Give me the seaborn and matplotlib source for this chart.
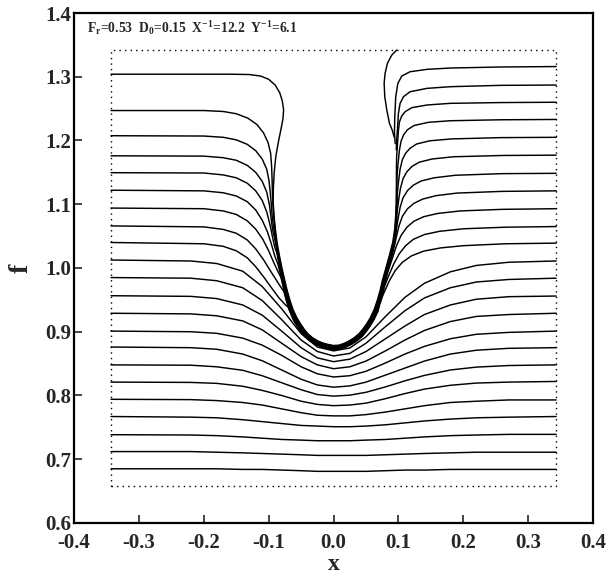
import numpy as np
import matplotlib
matplotlib.use("Agg")
import matplotlib.pyplot as plt
import seaborn as sns
from matplotlib.patches import Rectangle

# ---------------------------------------------------------------------------
# values
# ---------------------------------------------------------------------------
x_ticks = [-0.4, -0.3, -0.2, -0.1, 0.0, 0.1, 0.2, 0.3, 0.4]
y_ticks = [0.6, 0.7, 0.8, 0.9, 1.0, 1.1, 1.2, 1.3, 1.4]
param_text = r"F$_\mathrm{r}$=0.53  D$_0$=0.15  X$^{-1}$=12.2  Y$^{-1}$=6.1"

# dotted computational window
frame_x = [-0.343, 0.343]
frame_y = [0.658, 1.342]

# streamlines that pass underneath the body, sampled at common x positions
lower_x = [-0.343, -0.22, -0.18, -0.14, -0.11, -0.08, -0.05, -0.025, 0.0,
           0.025, 0.05, 0.08, 0.11, 0.14, 0.18, 0.22, 0.27, 0.343]
lower_y = [
    [0.685, 0.685, 0.685, 0.684, 0.684, 0.683, 0.682, 0.681, 0.681, 0.681, 0.681, 0.682, 0.683, 0.683, 0.684, 0.684, 0.684, 0.684],
    [0.712, 0.712, 0.711, 0.710, 0.709, 0.708, 0.707, 0.706, 0.706, 0.706, 0.706, 0.707, 0.708, 0.709, 0.710, 0.711, 0.711, 0.711],
    [0.7385, 0.738, 0.737, 0.735, 0.733, 0.731, 0.730, 0.729, 0.729, 0.729, 0.730, 0.731, 0.733, 0.735, 0.737, 0.738, 0.739, 0.739],
    [0.767, 0.766, 0.765, 0.762, 0.759, 0.756, 0.753, 0.752, 0.751, 0.751, 0.752, 0.754, 0.757, 0.760, 0.763, 0.765, 0.766, 0.767],
    [0.794, 0.7935, 0.792, 0.789, 0.785, 0.779, 0.773, 0.769, 0.768, 0.768, 0.770, 0.774, 0.779, 0.784, 0.789, 0.791, 0.793, 0.793],
    [0.821, 0.8205, 0.819, 0.8145, 0.808, 0.800, 0.791, 0.786, 0.784, 0.785, 0.788, 0.795, 0.803, 0.810, 0.816, 0.8195, 0.821, 0.822],
    [0.848, 0.8475, 0.845, 0.8395, 0.831, 0.820, 0.809, 0.8015, 0.799, 0.8005, 0.805, 0.8135, 0.823, 0.8315, 0.840, 0.8445, 0.847, 0.848],
    [0.876, 0.875, 0.8725, 0.865, 0.8545, 0.840, 0.8255, 0.8165, 0.813, 0.815, 0.821, 0.832, 0.843, 0.854, 0.865, 0.871, 0.874, 0.875],
    [0.901, 0.900, 0.8975, 0.890, 0.879, 0.863, 0.845, 0.834, 0.829, 0.831, 0.838, 0.851, 0.865, 0.877, 0.889, 0.896, 0.899, 0.901],
    [0.929, 0.928, 0.925, 0.917, 0.903, 0.882, 0.861, 0.848, 0.842, 0.845, 0.854, 0.870, 0.887, 0.902, 0.916, 0.924, 0.927, 0.929],
    [0.9565, 0.9555, 0.952, 0.942, 0.926, 0.901, 0.875, 0.859, 0.853, 0.857, 0.869, 0.889, 0.909, 0.927, 0.942, 0.951, 0.955, 0.956],
    [0.985, 0.984, 0.980, 0.969, 0.949, 0.919, 0.887, 0.869, 0.862, 0.866, 0.882, 0.908, 0.933, 0.953, 0.969, 0.978, 0.982, 0.984],
    [1.0125, 1.011, 1.007, 0.995, 0.971, 0.936, 0.897, 0.876, 0.870, 0.8745, 0.892, 0.924, 0.954, 0.976, 0.994, 1.004, 1.009, 1.011],
]

# innermost streamline wrapping the U-shaped body (left top -> bottom -> right top)
wall_x = [-0.093, -0.093, -0.0925, -0.091, -0.089, -0.0865, -0.083, -0.079, -0.0745, -0.071,
          -0.0668, -0.062, -0.056, -0.050, -0.044, -0.039, -0.032, -0.024, -0.016, -0.008,
          0.0,
          0.008, 0.016, 0.024, 0.032, 0.039, 0.0435, 0.050, 0.056, 0.062, 0.067,
          0.0712, 0.0745, 0.080, 0.0855, 0.0905, 0.0935, 0.095, 0.0958, 0.0962, 0.0963, 0.0963]
wall_y = [1.16, 1.13, 1.10, 1.08, 1.06, 1.04, 1.02, 1.00, 0.98, 0.965,
          0.95, 0.935, 0.922, 0.912, 0.903, 0.897, 0.891, 0.886, 0.8827, 0.8805,
          0.879,
          0.8795, 0.8822, 0.8862, 0.8915, 0.8975, 0.903, 0.912, 0.922, 0.935, 0.95,
          0.965, 0.98, 1.00, 1.02, 1.04, 1.06, 1.08, 1.10, 1.13, 1.16, 1.19]

# streamlines squeezed against the body: distance from the wall,
# height where they reach it on the left and leave it on the right
cluster_offset = [0.0006, 0.0014, 0.0022, 0.003, 0.0038, 0.0046, 0.0054, 0.0062, 0.007]
cluster_join = [1.10, 1.08, 1.06, 1.04, 1.02, 1.00, 0.98, 0.96, 0.935]
cluster_leave = [1.17, 1.14, 1.11, 1.08, 1.05, 1.02, 0.99, 0.965, 0.94]

cluster_left = [
    [(-0.343, 1.304), (-0.16, 1.304), (-0.13, 1.3035), (-0.112, 1.301), (-0.1, 1.296), (-0.09, 1.287),
     (-0.083, 1.275), (-0.079, 1.262), (-0.077, 1.248), (-0.078, 1.234), (-0.081, 1.218), (-0.085, 1.198),
     (-0.089, 1.175), (-0.0915, 1.15), (-0.0928, 1.125), (-0.0932, 1.105)],
    [(-0.343, 1.247), (-0.2, 1.247), (-0.17, 1.2455), (-0.15, 1.242), (-0.132, 1.235), (-0.118, 1.225),
     (-0.108, 1.212), (-0.101, 1.197), (-0.097, 1.18), (-0.0955, 1.16), (-0.0948, 1.14), (-0.0943, 1.12),
     (-0.0935, 1.10), (-0.0925, 1.085)],
    [(-0.343, 1.2075), (-0.2, 1.207), (-0.17, 1.205), (-0.15, 1.201), (-0.133, 1.194), (-0.12, 1.184),
     (-0.11, 1.171), (-0.103, 1.155), (-0.0995, 1.137), (-0.0975, 1.118), (-0.096, 1.10), (-0.0945, 1.08),
     (-0.0925, 1.065)],
    [(-0.343, 1.176), (-0.2, 1.1755), (-0.17, 1.173), (-0.15, 1.169), (-0.133, 1.161), (-0.12, 1.15),
     (-0.11, 1.136), (-0.103, 1.119), (-0.099, 1.10), (-0.0965, 1.08), (-0.094, 1.06), (-0.0905, 1.045)],
    [(-0.343, 1.1495), (-0.2, 1.149), (-0.17, 1.146), (-0.15, 1.1415), (-0.133, 1.133), (-0.12, 1.121),
     (-0.11, 1.106), (-0.103, 1.088), (-0.098, 1.068), (-0.094, 1.048), (-0.0905, 1.032), (-0.0875, 1.024)],
    [(-0.343, 1.122), (-0.2, 1.121), (-0.17, 1.118), (-0.15, 1.113), (-0.133, 1.104), (-0.12, 1.091),
     (-0.11, 1.075), (-0.102, 1.057), (-0.096, 1.038), (-0.091, 1.02), (-0.0855, 1.005)],
    [(-0.343, 1.094), (-0.2, 1.093), (-0.17, 1.0895), (-0.15, 1.084), (-0.133, 1.074), (-0.12, 1.061),
     (-0.109, 1.045), (-0.1, 1.027), (-0.092, 1.008), (-0.085, 0.993), (-0.081, 0.985)],
    [(-0.343, 1.066), (-0.2, 1.0645), (-0.17, 1.0605), (-0.15, 1.0545), (-0.133, 1.044), (-0.12, 1.03),
     (-0.108, 1.013), (-0.097, 0.995), (-0.087, 0.979), (-0.08, 0.968), (-0.0765, 0.963)],
    [(-0.343, 1.040), (-0.2, 1.038), (-0.17, 1.034), (-0.15, 1.027), (-0.133, 1.016), (-0.12, 1.002),
     (-0.107, 0.985), (-0.095, 0.968), (-0.084, 0.953), (-0.075, 0.943), (-0.0695, 0.938)],
]

cluster_right = [
    [(0.0972, 1.175), (0.0985, 1.195), (0.0998, 1.215), (0.1015, 1.229), (0.105, 1.2385), (0.1103, 1.2452),
     (0.1205, 1.2515), (0.144, 1.2557), (0.18, 1.2583), (0.257, 1.2595), (0.343, 1.260)],
    [(0.0978, 1.145), (0.0995, 1.165), (0.1015, 1.185), (0.104, 1.199), (0.108, 1.209), (0.114, 1.217),
     (0.124, 1.2235), (0.146, 1.2285), (0.18, 1.231), (0.257, 1.2325), (0.343, 1.233)],
    [(0.098, 1.115), (0.1, 1.135), (0.1025, 1.155), (0.106, 1.17), (0.111, 1.18), (0.118, 1.188),
     (0.128, 1.1945), (0.148, 1.1995), (0.182, 1.2025), (0.257, 1.2045), (0.343, 1.205)],
    [(0.0975, 1.085), (0.1, 1.105), (0.103, 1.125), (0.107, 1.14), (0.113, 1.151), (0.121, 1.1595),
     (0.132, 1.166), (0.152, 1.171), (0.185, 1.1745), (0.26, 1.1765), (0.343, 1.177)],
    [(0.096, 1.055), (0.099, 1.075), (0.1025, 1.095), (0.107, 1.11), (0.114, 1.1215), (0.123, 1.13),
     (0.135, 1.1365), (0.155, 1.1415), (0.188, 1.1455), (0.26, 1.148), (0.343, 1.1485)],
    [(0.0915, 1.025), (0.096, 1.045), (0.1005, 1.065), (0.106, 1.081), (0.114, 1.093), (0.124, 1.1015),
     (0.137, 1.108), (0.158, 1.1135), (0.19, 1.1175), (0.26, 1.1202), (0.343, 1.121)],
    [(0.084, 0.995), (0.0905, 1.015), (0.097, 1.035), (0.104, 1.051), (0.113, 1.064), (0.124, 1.0735),
     (0.139, 1.0805), (0.16, 1.0855), (0.195, 1.0895), (0.26, 1.092), (0.343, 1.093)],
    [(0.078, 0.97), (0.085, 0.988), (0.093, 1.007), (0.101, 1.022), (0.111, 1.035), (0.123, 1.045),
     (0.14, 1.0525), (0.163, 1.0575), (0.2, 1.0615), (0.265, 1.064), (0.343, 1.065)],
    [(0.071, 0.945), (0.078, 0.962), (0.086, 0.98), (0.095, 0.996), (0.106, 1.009), (0.12, 1.019),
     (0.139, 1.0265), (0.165, 1.0315), (0.2, 1.035), (0.265, 1.038), (0.343, 1.039)],
]

# the two upper right streamlines that emerge from the body, and the dividing line
upper_right = [
    [(0.0966, 1.185), (0.0972, 1.20), (0.0984, 1.2164), (0.0999, 1.2425), (0.1025, 1.2582), (0.1077, 1.2687),
     (0.1179, 1.2765), (0.144, 1.2818), (0.18, 1.2844), (0.257, 1.2865), (0.343, 1.287)],
    [(0.0950, 1.195), (0.0938, 1.212), (0.0943, 1.2373), (0.0958, 1.2687), (0.099, 1.2896), (0.1051, 1.3011),
     (0.1179, 1.3079), (0.144, 1.3116), (0.18, 1.3137), (0.257, 1.3153), (0.343, 1.316)],
]
divide_x = [0.0935, 0.0905, 0.0861, 0.082, 0.0789, 0.0779, 0.0794, 0.083, 0.0897, 0.0974]
divide_y = [1.205, 1.2160, 1.2269, 1.2478, 1.2687, 1.2897, 1.3054, 1.3211, 1.3341, 1.342]

# ---------------------------------------------------------------------------
sns.set_theme(style="white")
plt.rcParams["font.family"] = ["Liberation Serif", "DejaVu Serif"]
plt.rcParams["font.weight"] = "bold"
plt.rcParams["axes.unicode_minus"] = False
plt.rcParams["mathtext.fontset"] = "custom"
plt.rcParams["mathtext.rm"] = "Liberation Serif:bold"
plt.rcParams["mathtext.it"] = "Liberation Serif:bold"
plt.rcParams["mathtext.bf"] = "Liberation Serif:bold"

fig = plt.figure(figsize=(6.09, 5.78), dpi=100)
ax = fig.add_axes([0.1215, 0.0952, 0.8525, 0.8823])

LINE = dict(color="black", linewidth=1.05, sort=False, estimator=None, ax=ax)


def draw(xs, ys):
    sns.lineplot(x=np.asarray(xs), y=np.asarray(ys), **LINE)


# lines below the body
for row in lower_y:
    draw(lower_x, row)

# lines wrapped around the body: approach, hug the wall, leave
wx, wy = np.array(wall_x), np.array(wall_y)
tx, ty = np.gradient(wx), np.gradient(wy)
tn = np.hypot(tx, ty)
nx, ny = ty / tn, -tx / tn
for k in range(len(cluster_offset)):
    keep = ((wx < 0) & (wy < cluster_join[k])) | ((wx >= 0) & (wy < cluster_leave[k]))
    hx = wx[keep] + cluster_offset[k] * nx[keep]
    hy = wy[keep] + cluster_offset[k] * ny[keep]
    lx, ly = zip(*cluster_left[k])
    rx, ry = zip(*cluster_right[k])
    draw(np.concatenate([lx, hx, rx]), np.concatenate([ly, hy, ry]))

for pts in upper_right:
    px, py = zip(*pts)
    draw(px, py)
draw(divide_x, divide_y)

# dotted window
ax.add_patch(Rectangle((frame_x[0], frame_y[0]), frame_x[1] - frame_x[0], frame_y[1] - frame_y[0],
                       fill=False, edgecolor="black", linewidth=1.0, linestyle=(0, (1, 3))))

ax.text(-0.380, 1.3765, param_text, fontsize=9.8, fontweight="bold", va="center", ha="left")

ax.set_xlim(-0.4, 0.4)
ax.set_ylim(0.6, 1.4)
ax.set_xticks(x_ticks)
ax.set_yticks(y_ticks)
ax.set_xticklabels([f"{v:.1f}" for v in x_ticks])
ax.set_yticklabels([f"{v:.1f}" for v in y_ticks])
ax.tick_params(axis="both", direction="in", length=6, width=1.2, labelsize=15,
               top=False, right=False, bottom=True, left=True)
ax.tick_params(axis="x", pad=7)
ax.tick_params(axis="y", pad=2)
for s in ax.spines.values():
    s.set_linewidth(1.6)
    s.set_color("black")

ax.set_xlabel("x", fontsize=17, fontweight="bold", labelpad=1)
ax.set_ylabel("f", fontsize=20, fontweight="bold", labelpad=8)

fig.savefig("out.png", dpi=100)
